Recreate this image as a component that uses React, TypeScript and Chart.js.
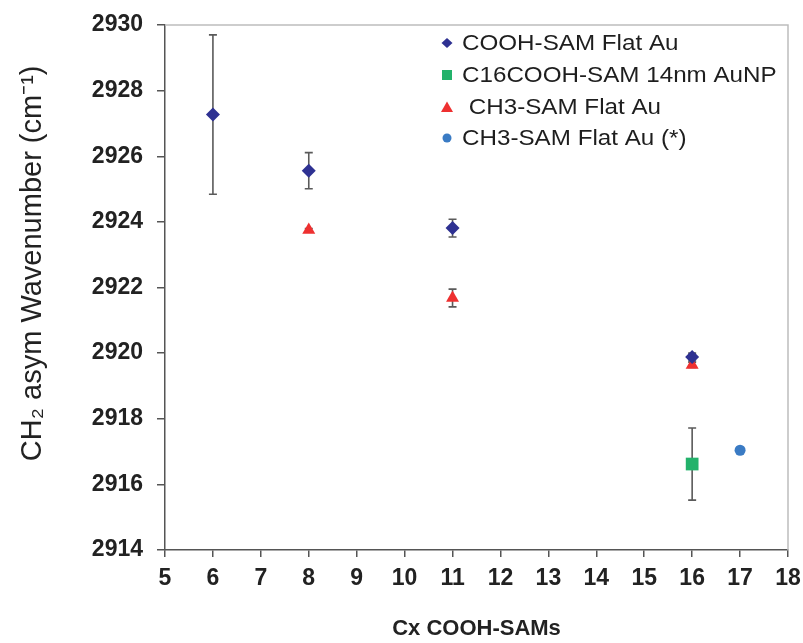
import React, { useEffect, useRef } from "react";
import { Chart, registerables } from "chart.js";

Chart.register(...registerables);

// ---- data ----
const cooX = [6, 8, 11, 16];
const cooY = [2927.27, 2925.56, 2923.81, 2919.88];
const cooErr = [2.43, 0.55, 0.27, 0.12];

const npX = [16];
const npY = [2916.62];
const npErr = [1.1];

const ch3X = [8, 11, 16];
const ch3Y = [2923.75, 2921.68, 2919.64];
const ch3Err = [0.05, 0.27, 0.08];

const ch3sX = [17];
const ch3sY = [2917.04];

const seriesLabels = [
  "COOH-SAM Flat Au",
  "C16COOH-SAM 14nm AuNP",
  " CH3-SAM Flat Au",
  "CH3-SAM Flat Au (*)",
];
const seriesColors = ["#2E3192", "#23B26B", "#EE3030", "#3A7BC4"];
const seriesStyles = ["rectRot", "rect", "triangle", "circle"];

const xMin = 5, xMax = 18, xStep = 1;
const yMin = 2914, yMax = 2930, yStep = 2;

const xTitle = "Cx COOH-SAMs";
const yTitle = "      CH\u2082 asym Wavenumber (cm\u207B\u00B9)";

const FONT = "'Liberation Sans', Arial, Helvetica, sans-serif";

function pts(xs: number[], ys: number[]) {
  return xs.map((x, i) => ({ x, y: ys[i] }));
}

export default function App() {
  const ref = useRef<HTMLCanvasElement>(null);

  useEffect(() => {
    if (!ref.current) return;

    const errorBars = {
      id: "errorBars",
      beforeDatasetsDraw(chart: any) {
        const { ctx } = chart;
        const xs = chart.scales.x;
        const ys = chart.scales.y;
        ctx.save();
        ctx.strokeStyle = "#5a5a5a";
        ctx.lineWidth = 1.6;
        chart.data.datasets.forEach((ds: any) => {
          const errs = ds.errors;
          if (!errs) return;
          ds.data.forEach((p: any, i: number) => {
            const e = errs[i];
            if (!e) return;
            const px = xs.getPixelForValue(p.x);
            const top = ys.getPixelForValue(p.y + e);
            const bot = ys.getPixelForValue(p.y - e);
            ctx.beginPath();
            ctx.moveTo(px, top);
            ctx.lineTo(px, bot);
            ctx.moveTo(px - 4, top);
            ctx.lineTo(px + 4, top);
            ctx.moveTo(px - 4, bot);
            ctx.lineTo(px + 4, bot);
            ctx.stroke();
          });
        });
        ctx.restore();
      },
    };

    const frame = {
      id: "frame",
      afterDraw(chart: any) {
        const { ctx, chartArea: a } = chart;
        ctx.save();
        ctx.strokeStyle = "#bdbdbd";
        ctx.lineWidth = 1.5;
        ctx.beginPath();
        ctx.moveTo(a.left, a.top);
        ctx.lineTo(a.right, a.top);
        ctx.lineTo(a.right, a.bottom);
        ctx.stroke();
        ctx.restore();
      },
    };

    const legendBox = {
      id: "legendBox",
      afterDraw(chart: any) {
        const { ctx, chartArea: a } = chart;
        const mx = a.right - 341;
        const tx = a.right - 326;
        const rows = [43, 75, 107, 138];
        ctx.save();
        ctx.font = `22px ${FONT}`;
        ctx.textBaseline = "middle";
        chart.data.datasets.forEach((ds: any, i: number) => {
          const y = rows[i];
          ctx.fillStyle = ds.backgroundColor;
          ctx.beginPath();
          const st = ds.pointStyle;
          if (st === "rectRot") {
            ctx.moveTo(mx, y - 5);
            ctx.lineTo(mx + 5.5, y);
            ctx.lineTo(mx, y + 5);
            ctx.lineTo(mx - 5.5, y);
            ctx.closePath();
          } else if (st === "rect") {
            ctx.rect(mx - 5, y - 5, 10, 10);
          } else if (st === "triangle") {
            ctx.moveTo(mx, y - 5.5);
            ctx.lineTo(mx + 6, y + 5);
            ctx.lineTo(mx - 6, y + 5);
            ctx.closePath();
          } else {
            ctx.arc(mx, y, 4.5, 0, Math.PI * 2);
          }
          ctx.fill();
          ctx.save();
          ctx.translate(tx, y + 1);
          ctx.scale(1.1, 1);
          ctx.fillStyle = "#1e1e1e";
          ctx.textAlign = "left";
          ctx.fillText(ds.label, 0, 0);
          ctx.restore();
        });
        ctx.restore();
      },
    };

    const mk = (i: number, data: any[], errors: number[] | null, radius: number) => ({
      label: seriesLabels[i],
      data,
      errors,
      showLine: false,
      pointStyle: seriesStyles[i],
      pointRadius: radius,
      pointHoverRadius: radius,
      backgroundColor: seriesColors[i],
      borderColor: seriesColors[i],
      pointBorderWidth: 0,
    });

    const chart = new Chart(ref.current, {
      type: "scatter",
      data: {
        datasets: [
          mk(0, pts(cooX, cooY), cooErr, 7),
          mk(1, pts(npX, npY), npErr, 9),
          mk(2, pts(ch3X, ch3Y), ch3Err, 7.5),
          mk(3, pts(ch3sX, ch3sY), null, 5.5),
        ] as any,
      },
      options: {
        animation: false,
        responsive: true,
        maintainAspectRatio: false,
        layout: { padding: { left: 0, top: 25, right: 15, bottom: 0 } },
        plugins: {
          legend: { display: false },
          tooltip: { enabled: false },
        },
        scales: {
          x: {
            type: "linear",
            min: xMin,
            max: xMax,
            afterFit: (s: any) => {
              s.height = 93;
              s.paddingLeft = 0;
              s.paddingRight = 0;
            },
            ticks: {
              stepSize: xStep,
              autoSkip: false,
              maxRotation: 0,
              color: "#222",
              padding: 8,
              font: { family: FONT, size: 23, weight: "bold" },
              callback: (v: any) => String(v),
            },
            grid: {
              drawOnChartArea: false,
              drawTicks: true,
              tickLength: 7,
              color: "#555",
              lineWidth: 1.5,
            },
            border: { display: true, color: "#555", width: 1.5 },
            title: {
              display: true,
              text: xTitle,
              color: "#222",
              font: { family: FONT, size: 22, weight: "bold" },
              padding: { top: 0, bottom: 1 },
            },
          },
          y: {
            type: "linear",
            min: yMin,
            max: yMax,
            afterFit: (s: any) => {
              s.width = 165;
              s.paddingTop = 0;
              s.paddingBottom = 0;
            },
            ticks: {
              stepSize: yStep,
              color: "#222",
              padding: 14,
              font: { family: FONT, size: 23, weight: "bold" },
              callback: (v: any) => String(v),
            },
            grid: {
              drawOnChartArea: false,
              drawTicks: true,
              tickLength: 8,
              color: "#555",
              lineWidth: 1.5,
            },
            border: { display: true, color: "#555", width: 1.5 },
            title: {
              display: true,
              text: yTitle,
              color: "#222",
              font: { family: FONT, size: 29 },
              padding: { top: 16, bottom: 0 },
            },
          },
        },
      },
      plugins: [errorBars, frame, legendBox],
    });

    return () => chart.destroy();
  }, []);

  return (
    <div style={{ position: "absolute", left: 0, top: 0, width: 803, height: 643, background: "#fff" }}>
      <canvas ref={ref} />
    </div>
  );
}
